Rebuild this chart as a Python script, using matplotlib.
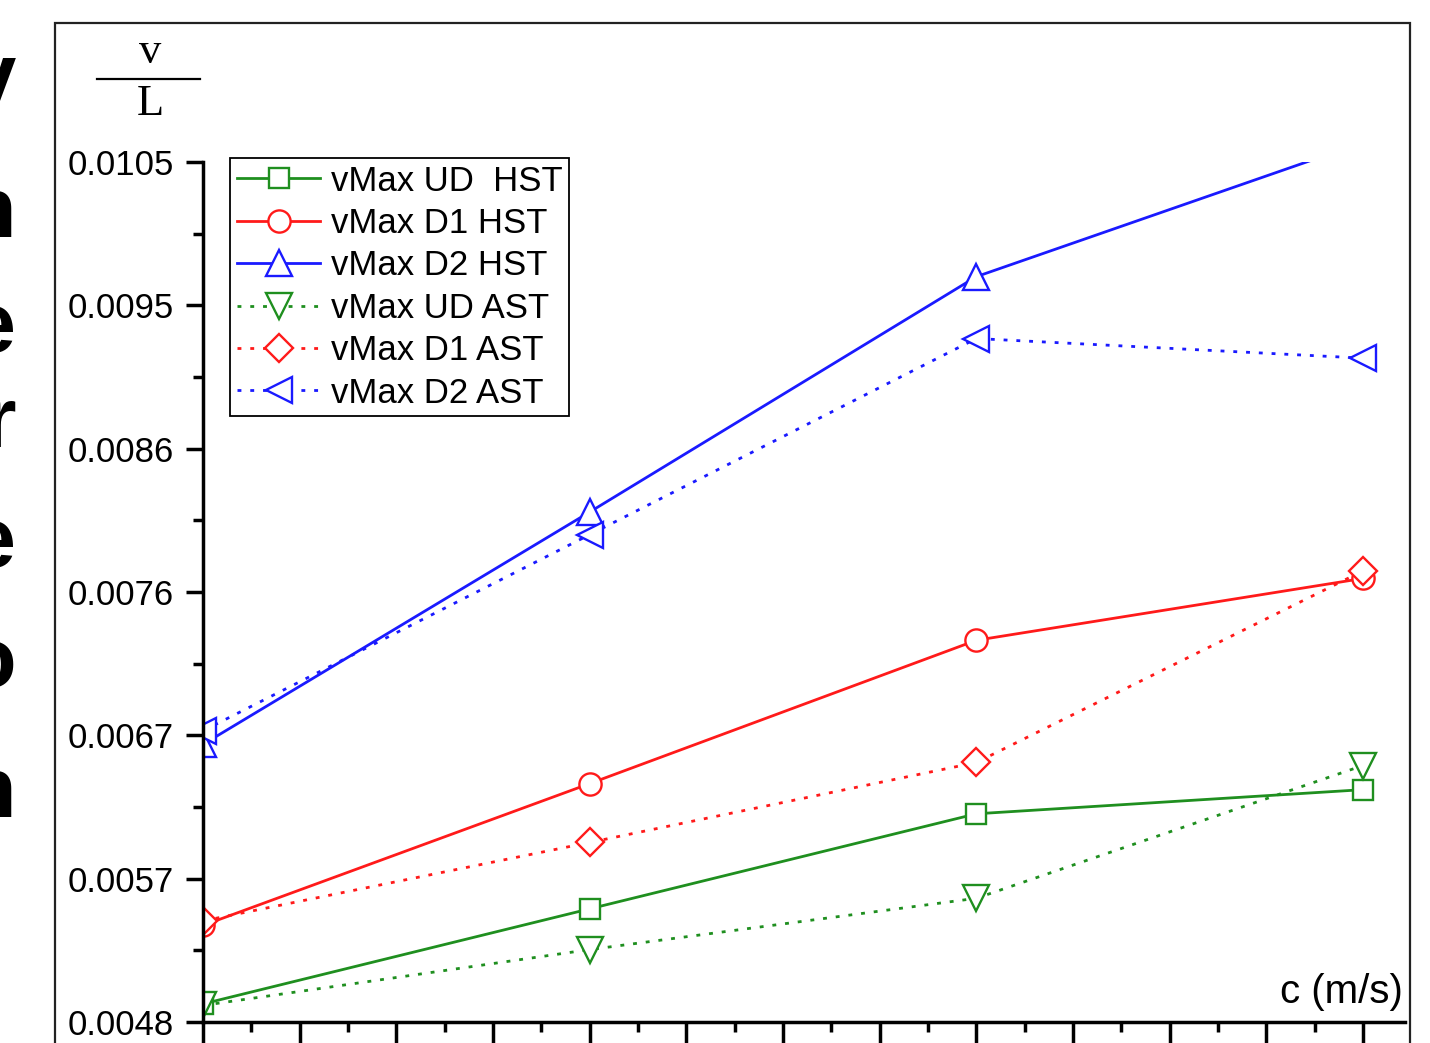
import numpy as np
import matplotlib
matplotlib.use("Agg")
import matplotlib.pyplot as plt
from matplotlib.lines import Line2D
from matplotlib.patches import Rectangle

plt.rcParams['font.family'] = ['Liberation Sans', 'DejaVu Sans']

# wave speed c (m/s) -- tick labels are cut off in the source figure
c = [1.0, 2.0, 3.0, 4.0]

ud_hst = [0.00492, 0.00555, 0.00618, 0.00634]
d1_hst = [0.00544, 0.00638, 0.00733, 0.00774]
d2_hst = [0.00664, 0.00818, 0.00974, 0.01063]
ud_ast = [0.00491, 0.00528, 0.00562, 0.00650]
d1_ast = [0.00547, 0.00599, 0.00652, 0.00779]
d2_ast = [0.00673, 0.00803, 0.00933, 0.00920]

labels = ["vMax UD  HST", "vMax D1 HST", "vMax D2 HST",
          "vMax UD AST", "vMax D1 AST", "vMax D2 AST"]

ytick_vals = np.linspace(0.0048, 0.0105, 7)
ytick_labels = ["0.0048", "0.0057", "0.0067", "0.0076", "0.0086", "0.0095", "0.0105"]

green = '#1f8f1f'
red = '#ff1a1a'
blue = '#1a1aff'

fig = plt.figure(figsize=(14.3, 10.43), dpi=100)
ax = fig.add_axes([203/1430, 21/1043, 1202/1430, 860/1043])

solid = dict(lw=2.0, mfc='white', mew=1.7)
dot = dict(lw=2.0, mfc='white', mew=1.7, ls=(0, (1.4, 3.2)))

ax.plot(c, ud_hst, color=green, marker='s', ms=14, label=labels[0], **solid)
ax.plot(c, d1_hst, color=red, marker='o', ms=16, label=labels[1], **solid)
ax.plot(c, d2_hst, color=blue, marker='^', ms=19, label=labels[2], **solid)
ax.plot(c, ud_ast, color=green, marker='v', ms=19, label=labels[3], **dot)
ax.plot(c, d1_ast, color=red, marker='D', ms=14, label=labels[4], **dot)
ax.plot(c, d2_ast, color=blue, marker='<', ms=19, label=labels[5], **dot)

ax.set_xticks(np.arange(1.0, 4.2, 0.25))
ax.set_xticks(np.arange(1.125, 4.2, 0.25), minor=True)
ax.set_xticklabels([])
ax.set_yticks(ytick_vals)
ax.set_yticklabels(ytick_labels, fontsize=25)
ax.set_yticks((ytick_vals[:-1] + ytick_vals[1:]) / 2, minor=True)

ax.set_xlim(1.0, 1.0 + 1202/1160*3)
ax.set_ylim(0.0048, 0.0105)

for s in ['top', 'right']:
    ax.spines[s].set_visible(False)
for s in ['left', 'bottom']:
    ax.spines[s].set_linewidth(2.5)
ax.tick_params(which='major', direction='out', length=12, width=2.5, pad=9)
ax.tick_params(axis='x', which='major', length=18)
ax.tick_params(which='minor', direction='out', length=7, width=2.5)

leg = ax.legend(loc='upper left', bbox_to_anchor=(0.0225, 1.005), borderaxespad=0,
                fontsize=25, handlelength=2.4, labelspacing=0.27, handletextpad=0.3,
                borderpad=0.2, fancybox=False, edgecolor='black', framealpha=1)
leg.get_frame().set_linewidth(1.3)

fig.text(1403/1430, 1 - 992/1043, 'c (m/s)', fontsize=29, ha='right', va='center')

# v / L label at the top of the y axis
fig.text(150/1430, 1 - 52/1043, 'v', fontsize=32, family='Liberation Serif', ha='center', va='center')
fig.text(150/1430, 1 - 104/1043, 'L', fontsize=32, family='Liberation Serif', ha='center', va='center')
fig.add_artist(Line2D([97/1430, 200/1430], [1 - 79/1043, 1 - 79/1043], color='black', lw=1.6))

# page frame
fig.add_artist(Rectangle((55/1430, -0.05), 1355/1430, 1.05 - 23/1043, fill=False,
                         edgecolor='#222222', lw=1.6, transform=fig.transFigure))

# cut-off letters of a neighbouring label at the left edge
for ch, py in [('V', 95), ('n', 215), ('e', 330), ('r', 425), ('e', 545), ('o', 665), ('n', 795)]:
    fig.text(16/1430, 1 - py/1043, ch, fontsize=62, ha='right', va='center', fontweight='bold')

fig.savefig('out.png', dpi=100)
